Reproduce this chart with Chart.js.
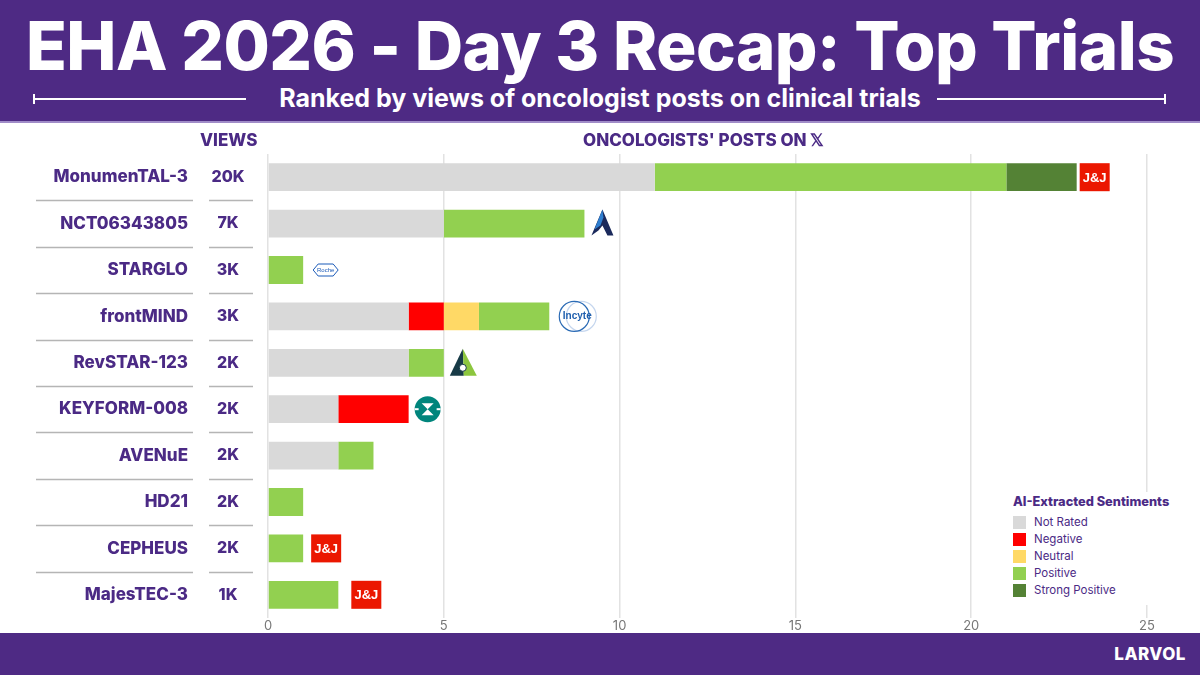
<!DOCTYPE html>
<html>
<head>
<meta charset="utf-8">
<script src="https://cdn.jsdelivr.net/npm/chart.js@4.4.1/dist/chart.umd.min.js"></script>
<style>
  html, body { margin: 0; padding: 0; }
  body { width: 1200px; height: 675px; position: relative; overflow: hidden; background: #fff; font-family: Inter, "Open Sans", sans-serif; }
  #chartBox { position: absolute; left: 0; top: 0; width: 1200px; height: 675px; }
  .header { position: absolute; left: 0; top: 0; width: 1200px; height: 121px; background: #4e2a84; border-bottom: 2px solid #a08cc8; }
  .title { position: absolute; left: 0; width: 1200px; top: 5px; text-align: center; color: #fff; font-weight: 800; font-size: 67px; letter-spacing: -0.5px; }
  .subtitle { position: absolute; left: 0; width: 1200px; top: 83px; text-align: center; color: #fff; font-weight: 700; font-size: 25px; }
  .rule { position: absolute; top: 98px; height: 2px; background: #fff; }
  .cap { position: absolute; top: 94px; width: 2px; height: 10px; background: #fff; }
  .colhead { position: absolute; top: 130px; color: #4b2a85; font-weight: 800; font-size: 17px; }
  .footer { position: absolute; left: 0; top: 633px; width: 1200px; height: 42px; background: #4e2a84; }
  .footer span { position: absolute; right: 14px; top: 11px; color: #fff; font-weight: 800; font-size: 17px; letter-spacing: 0.5px; }
  .legend { position: absolute; left: 1006px; top: 492px; width: 172px; background: #fff; padding: 2px 0 4px 7px; color: #4b2a85; }
  .legend h4 { margin: 0 0 7px 0; font-size: 12.8px; font-weight: 800; }
  .legend div { font-size: 11.5px; height: 17px; line-height: 13px; }
  .legend i { display: inline-block; width: 13px; height: 13px; vertical-align: top; margin-right: 8px; }
</style>
</head>
<body>
<div id="chartBox"><canvas id="chart" width="1200" height="675"></canvas></div>

<div class="header">
  <div class="title">EHA 2026 - Day 3 Recap: Top Trials</div>
  <div class="rule" style="left:33px;width:213px"></div><div class="cap" style="left:33px"></div>
  <div class="subtitle">Ranked by views of oncologist posts on clinical trials</div>
  <div class="rule" style="left:937px;width:228px"></div><div class="cap" style="left:1164px"></div>
</div>
<div class="colhead" style="left:200px">VIEWS</div>
<div class="colhead" style="left:583px">ONCOLOGISTS' POSTS ON 𝕏</div>
<div class="legend" id="legend"></div>
<div class="footer"><span>LARVOL</span></div>

<script>
const trials = ["MonumenTAL-3", "NCT06343805", "STARGLO", "frontMIND", "RevSTAR-123",
                "KEYFORM-008", "AVENuE", "HD21", "CEPHEUS", "MajesTEC-3"];
const views = ["20K", "7K", "3K", "3K", "2K", "2K", "2K", "2K", "2K", "1K"];
const sponsors = ["jnj", "arrow", "roche", "incyte", "tri", "merck", null, null, "jnj", "jnj"];

const sentimentNames = ["Not Rated", "Negative", "Neutral", "Positive", "Strong Positive"];
const notRated = [11, 5, 0, 4, 4, 2, 2, 0, 0, 0];
const negative = [0, 0, 0, 1, 0, 2, 0, 0, 0, 0];
const neutral = [0, 0, 0, 1, 0, 0, 0, 0, 0, 0];
const positive = [10, 4, 1, 2, 1, 0, 1, 1, 1, 2];
const strongPositive = [2, 0, 0, 0, 0, 0, 0, 0, 0, 0];
const xTicks = [0, 5, 10, 15, 20, 25];

const colors = ["#d9d9d9", "#ff0000", "#ffd966", "#92d050", "#548235"];
const series = [notRated, negative, neutral, positive, strongPositive];
const purple = "#4b2a85";

// legend (html)
const leg = document.getElementById("legend");
leg.innerHTML = "<h4>AI-Extracted Sentiments</h4>" +
    sentimentNames.map((n, i) => `<div><i style="background:${colors[i]}"></i>${n}</div>`).join("");

// small drawn logos after the bar ends
const logoGap = [3, 6, 10, 8, 6, 6, 0, 0, 8, 13];

function drawLogo(ctx, kind, x, y) {
    ctx.save();
    if (kind === "jnj") {
        ctx.fillStyle = "#eb1700";
        ctx.fillRect(x, y - 14, 30, 28);
        ctx.fillStyle = "#fff";
        ctx.font = "bold 13px 'Liberation Sans', Arial";
        ctx.textAlign = "center";
        ctx.textBaseline = "middle";
        ctx.fillText("J&J", x + 15, y + 1);
    } else if (kind === "arrow") {
        ctx.fillStyle = "#1b2a5c";
        ctx.beginPath();
        ctx.moveTo(x + 12, y - 14);
        ctx.lineTo(x + 23, y + 12);
        ctx.lineTo(x + 17, y + 12);
        ctx.lineTo(x + 12, y + 2);
        ctx.lineTo(x + 8, y + 7);
        ctx.lineTo(x + 1, y + 12);
        ctx.closePath();
        ctx.fill();
        ctx.fillStyle = "#2f7fd0";
        ctx.beginPath();
        ctx.moveTo(x + 12, y - 14);
        ctx.lineTo(x + 4, y + 6);
        ctx.lineTo(x + 10, y + 2);
        ctx.lineTo(x + 13, y - 6);
        ctx.closePath();
        ctx.fill();
    } else if (kind === "roche") {
        ctx.strokeStyle = "#1b5ab8";
        ctx.lineWidth = 1;
        ctx.beginPath();
        ctx.moveTo(x, y);
        ctx.lineTo(x + 5, y - 6);
        ctx.lineTo(x + 20, y - 6);
        ctx.lineTo(x + 25, y);
        ctx.lineTo(x + 20, y + 6);
        ctx.lineTo(x + 5, y + 6);
        ctx.closePath();
        ctx.stroke();
        ctx.fillStyle = "#1b5ab8";
        ctx.font = "6px 'Liberation Sans', Arial";
        ctx.textAlign = "center";
        ctx.textBaseline = "middle";
        ctx.fillText("Roche", x + 12.5, y + 0.5);
    } else if (kind === "incyte") {
        ctx.strokeStyle = "#c5d6ee";
        ctx.lineWidth = 1.2;
        ctx.beginPath(); ctx.arc(x + 24, y, 15, 0, Math.PI * 2); ctx.stroke();
        ctx.strokeStyle = "#2b6bb5";
        ctx.beginPath(); ctx.arc(x + 17, y, 15, 0, Math.PI * 2); ctx.stroke();
        ctx.fillStyle = "#1f5fae";
        ctx.font = "bold 10px 'Liberation Sans', Arial";
        ctx.textAlign = "center";
        ctx.textBaseline = "middle";
        ctx.fillText("Incyte", x + 20, y);
    } else if (kind === "tri") {
        ctx.fillStyle = "#173a46";
        ctx.beginPath();
        ctx.moveTo(x + 13, y - 14);
        ctx.lineTo(x, y + 13);
        ctx.lineTo(x + 14, y + 13);
        ctx.closePath();
        ctx.fill();
        ctx.fillStyle = "#8cc63e";
        ctx.beginPath();
        ctx.moveTo(x + 13, y - 14);
        ctx.lineTo(x + 27, y + 13);
        ctx.lineTo(x + 14, y + 13);
        ctx.closePath();
        ctx.fill();
        ctx.fillStyle = "#fff";
        ctx.beginPath(); ctx.arc(x + 13, y + 5, 3.5, 0, Math.PI * 2); ctx.fill();
        ctx.strokeStyle = "#173a46";
        ctx.lineWidth = 1;
        ctx.stroke();
    } else if (kind === "merck") {
        const cx = x + 13;
        ctx.fillStyle = "#00857c";
        ctx.beginPath(); ctx.arc(cx, y, 13, 0, Math.PI * 2); ctx.fill();
        ctx.fillStyle = "#fff";
        ctx.beginPath();
        ctx.moveTo(cx - 6, y - 6);
        ctx.lineTo(cx + 6, y - 6);
        ctx.lineTo(cx, y);
        ctx.closePath();
        ctx.moveTo(cx - 6, y + 6);
        ctx.lineTo(cx + 6, y + 6);
        ctx.lineTo(cx, y);
        ctx.closePath();
        ctx.fill();
        ctx.fillRect(cx - 13, y - 1, 4, 2);
        ctx.fillRect(cx + 9, y - 1, 4, 2);
    }
    ctx.restore();
}

const sidePlugin = {
    id: "side",
    afterDraw(chart) {
        const ctx = chart.ctx;
        const ys = chart.scales.y;
        const xs = chart.scales.x;
        ctx.save();
        ctx.fillStyle = purple;
        ctx.textBaseline = "middle";
        trials.forEach((t, i) => {
            const y = ys.getPixelForValue(i);
            ctx.textAlign = "right";
            ctx.font = "800 17px Inter";
            ctx.fillText(t, 188, y);
            ctx.textAlign = "center";
            ctx.font = "800 16px Inter";
            ctx.fillText(views[i], 228, y);
            if (i < trials.length - 1) {
                const yy = Math.round((y + ys.getPixelForValue(i + 1)) / 2) + 0.5;
                ctx.strokeStyle = "#b5b5b5";
                ctx.lineWidth = 1.5;
                ctx.beginPath();
                ctx.moveTo(36, yy); ctx.lineTo(193, yy);
                ctx.moveTo(209, yy); ctx.lineTo(253, yy);
                ctx.stroke();
            }
            if (sponsors[i]) {
                const total = series.reduce((s, arr) => s + arr[i], 0);
                drawLogo(ctx, sponsors[i], xs.getPixelForValue(total) + logoGap[i], y);
            }
        });
        ctx.restore();
    }
};

new Chart(document.getElementById("chart"), {
    type: "bar",
    data: {
        labels: trials,
        datasets: series.map((d, i) => ({
            label: sentimentNames[i],
            data: d,
            backgroundColor: colors[i],
            borderWidth: 0,
            barPercentage: 0.6,
            categoryPercentage: 1
        }))
    },
    options: {
        indexAxis: "y",
        responsive: false,
        animation: false,
        layout: { padding: { left: 268, right: 53, top: 154, bottom: 37 } },
        plugins: { legend: { display: false }, tooltip: { enabled: false } },
        scales: {
            y: { stacked: true, display: false },
            x: {
                stacked: true,
                min: 0,
                max: 25,
                afterBuildTicks: s => { s.ticks = xTicks.map(v => ({ value: v })); },
                grid: { color: "#e2e2e2", drawTicks: false, lineWidth: 1.5 },
                border: { display: false },
                ticks: { color: "#777", font: { family: "Inter", size: 13 }, padding: 0 },
                afterFit: s => { s.height = 20; }
            }
        }
    },
    plugins: [sidePlugin]
});
</script>
</body>
</html>
